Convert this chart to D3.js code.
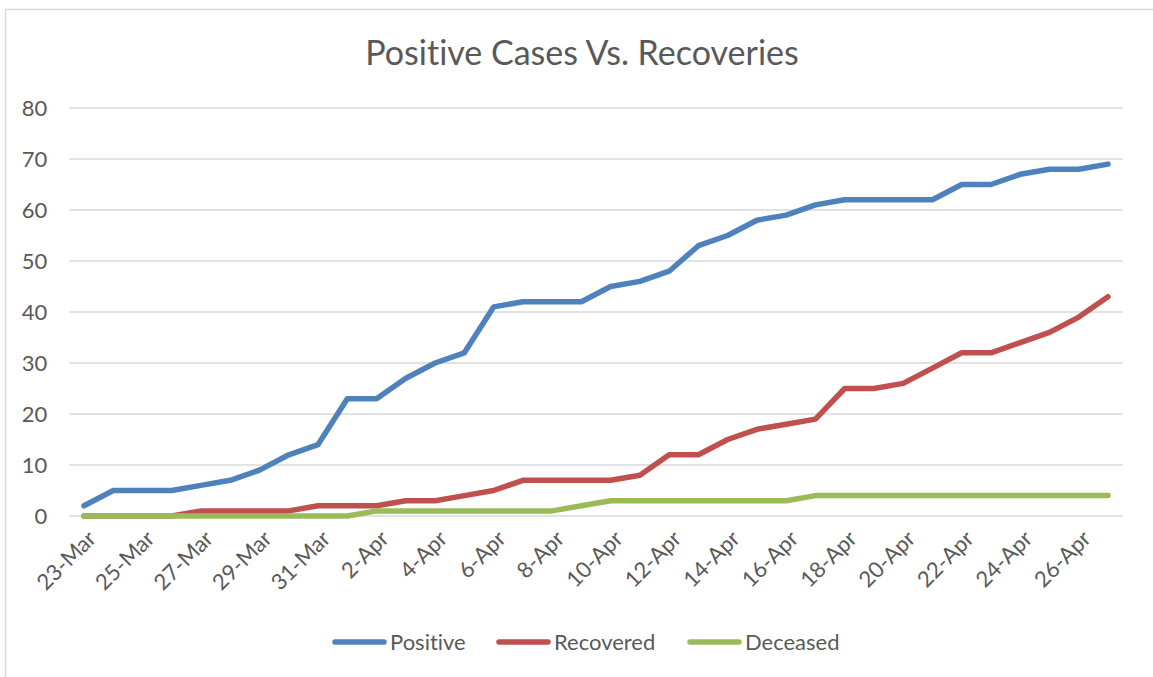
<!DOCTYPE html>
<html>
<head>
<meta charset="utf-8">
<script src="https://cdn.jsdelivr.net/npm/d3@7"></script>
<style>
  body { margin: 0; background: #fff; }
  text { font-family: Lato, "Open Sans", sans-serif; fill: #595959; font-variant-ligatures: none; }
</style>
</head>
<body>
<script>
// dates, one per day
const dates = ["23-Mar","24-Mar","25-Mar","26-Mar","27-Mar","28-Mar","29-Mar","30-Mar","31-Mar",
    "1-Apr","2-Apr","3-Apr","4-Apr","5-Apr","6-Apr","7-Apr","8-Apr","9-Apr","10-Apr","11-Apr",
    "12-Apr","13-Apr","14-Apr","15-Apr","16-Apr","17-Apr","18-Apr","19-Apr","20-Apr","21-Apr",
    "22-Apr","23-Apr","24-Apr","25-Apr","26-Apr","27-Apr"];

const positive = [2,5,5,5,6,7,9,12,14,23,23,27,30,32,41,42,42,42,45,46,48,53,55,58,59,61,62,62,62,62,65,65,67,68,68,69];
const recovered = [0,0,0,0,1,1,1,1,2,2,2,3,3,4,5,7,7,7,7,8,12,12,15,17,18,19,25,25,26,29,32,32,34,36,39,43];
const deceased = [0,0,0,0,0,0,0,0,0,0,1,1,1,1,1,1,1,2,3,3,3,3,3,3,3,4,4,4,4,4,4,4,4,4,4,4];

const yTicks = [0,10,20,30,40,50,60,70,80];

const series = [
    { name: "Positive", values: positive, color: "#4F81BD" },
    { name: "Recovered", values: recovered, color: "#C0504D" },
    { name: "Deceased", values: deceased, color: "#9BBB59" }
];

const width = 1153, height = 677;

const svg = d3.select('body').append('svg')
    .attr('width', width)
    .attr('height', height);

// chart frame
svg.append("rect")
    .attr("x", 5.5).attr("y", 9.5)
    .attr("width", 1200).attr("height", 700)
    .attr("fill", "none")
    .attr("stroke", "#d9d9d9")
    .attr("stroke-width", 1.5);

svg.append("text")
    .attr("x", 582).attr("y", 65)
    .attr("text-anchor", "middle")
    .style("font-size", "34px")
    .text("Positive Cases Vs. Recoveries");

var x = d3.scalePoint()
    .domain(dates)
    .range([84, 1108]);
const half = x.step() / 2;

var y = d3.scaleLinear()
    .domain([0, 80])
    .range([516, 108]);

// gridlines
svg.append("g")
    .selectAll("line")
    .data(yTicks)
    .enter()
    .append("line")
    .attr("x1", 84 - half)
    .attr("x2", 1108 + half)
    .attr("y1", d => y(d))
    .attr("y2", d => y(d))
    .attr("stroke", "#d9d9d9")
    .attr("stroke-width", 1.5);

// Y axis labels
const yAxis = svg.append("g")
    .attr("transform", "translate(" + (84 - half) + ",0)")
    .call(d3.axisLeft(y).tickValues(yTicks).tickSize(0).tickPadding(22));
yAxis.select(".domain").remove();
yAxis.selectAll("text")
    .style("font-size", "22px")
    .style("font-family", "Lato, sans-serif")
    .attr("fill", "#595959");

// X axis labels, every other day
const xAxis = svg.append("g")
    .attr("transform", "translate(0,516)")
    .call(d3.axisBottom(x).tickValues(dates.filter((d, i) => i % 2 === 0)).tickSize(0));
xAxis.select(".domain").remove();
xAxis.selectAll("text")
    .style("font-size", "22px")
    .style("font-family", "Lato, sans-serif")
    .attr("fill", "#595959")
    .attr("text-anchor", "end")
    .attr("dy", "0")
    .attr("y", 0)
    .attr("transform", "translate(13,24) rotate(-45)");

// lines
const line = d3.line()
    .x((d, i) => x(dates[i]))
    .y(d => y(d));

svg.append("g")
    .selectAll("path")
    .data(series)
    .enter()
    .append("path")
    .attr("d", d => line(d.values))
    .attr("fill", "none")
    .attr("stroke", d => d.color)
    .attr("stroke-width", 5.5)
    .attr("stroke-linejoin", "round")
    .attr("stroke-linecap", "round");

// legend
const legendX = [333, 497, 688];
const legend = svg.append("g")
    .selectAll("g")
    .data(series)
    .enter()
    .append("g")
    .attr("transform", (d, i) => "translate(" + legendX[i] + ",642)");
legend.append("line")
    .attr("x1", 2).attr("x2", 51)
    .attr("y1", 0).attr("y2", 0)
    .attr("stroke", d => d.color)
    .attr("stroke-width", 5.5)
    .attr("stroke-linecap", "round");
legend.append("text")
    .attr("x", 57)
    .attr("y", 8)
    .style("font-size", "22px")
    .text(d => d.name);
</script>
</body>
</html>
